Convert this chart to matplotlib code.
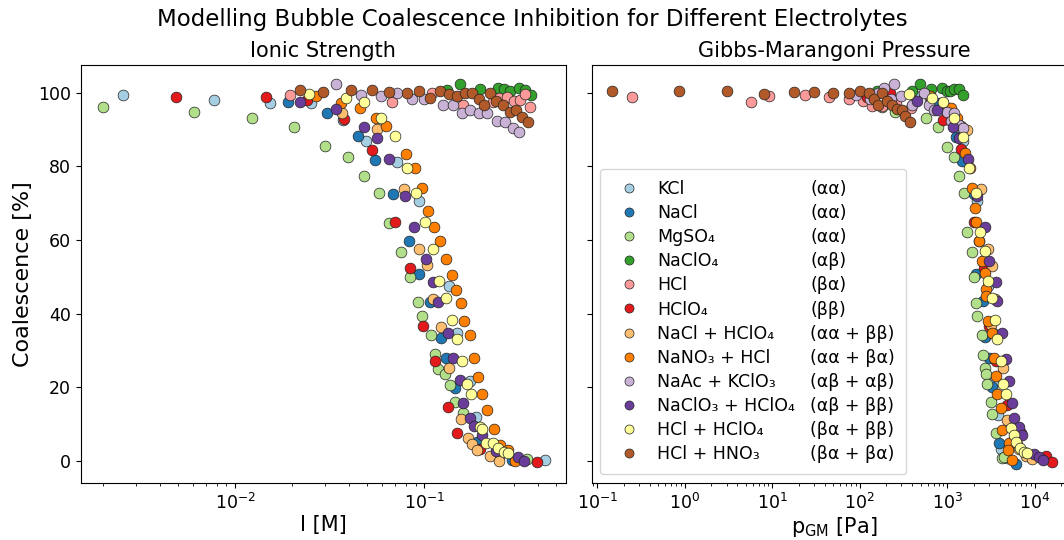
import matplotlib.pyplot as plt
from matplotlib.lines import Line2D

# electrolyte names and their ion-combination types
names = ['KCl', 'NaCl', 'MgSO₄', 'NaClO₄', 'HCl', 'HClO₄',
         'NaCl + HClO₄', 'NaNO₃ + HCl', 'NaAc + KClO₃',
         'NaClO₃ + HClO₄', 'HCl + HClO₄', 'HCl + HNO₃']
types = ['(αα)', '(αα)', '(αα)', '(αβ)', '(βα)', '(ββ)',
         '(αα + ββ)', '(αα + βα)', '(αβ + αβ)', '(αβ + ββ)',
         '(βα + ββ)', '(βα + βα)']

# (ionic strength [M], coalescence [%])
kcl_I = [(0.00256, 99.3), (0.00777, 98.1), (0.0153, 97.2), (0.0253, 97.2), (0.0374, 92.7),
         (0.0493, 87.0), (0.0716, 81.3), (0.0934, 70.5), (0.1345, 47.6), (0.149, 34.9),
         (0.174, 21.7), (0.188, 12.0), (0.24, 2.5), (0.433, 0.3)]
nacl_I = [(0.019, 97.4), (0.0305, 94.5), (0.0444, 88.3), (0.055, 81.8), (0.0687, 72.5),
          (0.0835, 59.8), (0.0934, 50.8), (0.1067, 43.3), (0.1226, 33.5), (0.130, 27.9),
          (0.146, 19.9), (0.19, 5.2), (0.29, 0.3)]
mgso4_I = [(0.00201, 96.1), (0.0061, 94.9), (0.0123, 93.1), (0.0206, 90.6), (0.0299, 85.6),
           (0.0394, 82.5), (0.0482, 77.4), (0.0575, 72.7), (0.0655, 64.7), (0.0755, 56.9),
           (0.0843, 50.0), (0.0922, 43.2), (0.0976, 39.5), (0.109, 34.2), (0.1143, 29.1),
           (0.119, 25.0), (0.129, 23.6), (0.137, 20.7), (0.146, 16.1), (0.161, 13.0),
           (0.25, 1.5), (0.349, 0.5)]
naclo4_I = [(0.132, 100.8), (0.155, 102.4), (0.198, 101.0), (0.247, 101.3), (0.265, 101.0),
            (0.283, 100.4), (0.318, 101.3), (0.342, 100.8), (0.367, 99.5)]
hcl_I = [(0.0195, 99.3), (0.0674, 97.4), (0.110, 99.9), (0.160, 96.7), (0.23, 97.5),
         (0.25, 98.5), (0.274, 98.8), (0.30, 97.9), (0.322, 98.1), (0.342, 99.7), (0.361, 96.1)]
hclo4_I = [(0.00485, 99.0), (0.0145, 99.0), (0.024, 98.1), (0.0378, 92.8), (0.0528, 84.5),
           (0.0703, 64.9), (0.0843, 52.4), (0.0984, 36.7), (0.1143, 27.2), (0.133, 14.8),
           (0.150, 7.7), (0.198, 3.2), (0.394, -0.2)]
nacl_hclo4_I = [(0.0367, 94.5), (0.0566, 90.1), (0.0783, 73.8), (0.0944, 57.6), (0.103, 53.3),
                (0.112, 43.9), (0.1226, 36.3), (0.136, 25.2), (0.156, 11.3), (0.1695, 6.2),
                (0.179, 4.6), (0.19, 3.0), (0.223, 1.4), (0.25, 0.1)]
nano3_hcl_I = [(0.0268, 99.2), (0.0363, 97.2), (0.0455, 96.0), (0.0557, 93.1), (0.063, 91.0),
               (0.0803, 83.3), (0.0889, 79.5), (0.0973, 74.1), (0.1054, 68.0), (0.113, 63.7),
               (0.1215, 59.8), (0.130, 54.8), (0.14, 50.5), (0.147, 46.5), (0.156, 43.0),
               (0.163, 37.9), (0.174, 34.2), (0.1825, 28.1), (0.192, 22.9), (0.202, 18.1),
               (0.216, 13.9), (0.233, 8.6), (0.252, 4.3), (0.279, 3.0), (0.303, 0.1)]
naac_kclo3_I = [(0.0342, 102.4), (0.0462, 99.5), (0.0592, 99.2), (0.0722, 99.9), (0.086, 98.3),
                (0.1, 98.3), (0.1256, 96.7), (0.142, 96.7), (0.158, 94.5), (0.175, 95.4),
                (0.194, 94.6), (0.215, 94.6), (0.242, 92.4), (0.266, 92.2), (0.294, 90.4),
                (0.319, 89.5)]
naclo3_hclo4_I = [(0.0221, 97.6), (0.0341, 95.6), (0.0478, 90.8), (0.0566, 87.7), (0.0655, 82.1),
                  (0.0787, 72.1), (0.0885, 63.5), (0.1025, 54.8), (0.112, 48.6), (0.118, 43.3),
                  (0.133, 34.7), (0.142, 27.9), (0.154, 22.0), (0.161, 15.7), (0.174, 11.8),
                  (0.1825, 9.5), (0.202, 7.1), (0.24, 2.8), (0.315, 1.2), (0.338, 0.1)]
hcl_hclo4_I = [(0.0245, 99.7), (0.0387, 98.7), (0.0482, 97.6), (0.059, 93.3), (0.0703, 88.3),
               (0.081, 79.7), (0.0908, 72.7), (0.1016, 64.9), (0.112, 57.5), (0.1205, 48.9),
               (0.1305, 44.4), (0.14, 38.3), (0.149, 33.1), (0.158, 27.2), (0.168, 20.8),
               (0.177, 18.1), (0.198, 9.3), (0.203, 8.6), (0.213, 5.0), (0.231, 4.8),
               (0.247, 3.6), (0.263, 2.5), (0.279, 2.3)]
hcl_hno3_I = [(0.0221, 100.8), (0.0293, 100.1), (0.041, 100.8), (0.0528, 100.8), (0.0655, 100.1),
              (0.081, 99.9), (0.0944, 100.6), (0.108, 98.5), (0.1215, 100.4), (0.136, 99.7),
              (0.15, 99.2), (0.165, 99.9), (0.179, 99.9), (0.194, 98.3), (0.206, 96.7),
              (0.223, 99.9), (0.24, 97.8), (0.26, 96.7), (0.285, 94.9), (0.307, 95.4),
              (0.329, 93.4), (0.356, 92.0)]

# (Gibbs-Marangoni pressure [Pa], coalescence [%])
kcl_p = [(420, 99.3), (640, 98.1), (820, 97.2), (900, 97.2), (1250, 92.7), (1500, 87.0),
         (1700, 81.3), (2173, 70.5), (2900, 47.6), (3300, 34.9), (3500, 21.7), (3837, 12.5),
         (4085, 3.4), (4862, 0.7)]
nacl_p = [(700, 97.4), (1000, 94.5), (1270, 88.1), (1489, 81.5), (2000, 72.5), (2300, 59.8),
          (2152, 50.8), (2566, 43.6), (2704, 33.6), (3000, 27.9), (3281, 20.2), (3909, 4.8),
          (6067, -0.8)]
mgso4_p = [(180, 96.1), (250, 94.9), (568, 93.1), (785, 90.7), (1002, 85.4), (1196, 82.5),
           (1365, 77.4), (1556, 72.7), (1700, 62.2), (1905, 56.9), (2025, 50.1), (2152, 43.0),
           (2208, 39.4), (2477, 34.2), (2566, 28.8), (2704, 25.2), (2799, 23.6), (2872, 20.8),
           (3143, 16.1), (3281, 12.8), (3583, 7.5), (4198, 0.7), (4457, 1.2)]
naclo4_p = [(159, 100.6), (399, 100.4), (489, 102.4), (647, 101.0), (880, 101.3), (1002, 100.4),
            (1076, 100.4), (1196, 101.0), (1365, 101.0), (1529, 99.3)]
hcl_p = [(0.25, 98.9), (5.7, 97.6), (9.2, 99.2), (23.7, 99.5), (45, 98.8), (76, 98.3),
         (110, 97.8), (139, 96.3), (181, 96.3), (260, 97.0), (383, 95.8)]
hclo4_p = [(120, 99.0), (220, 99.9), (896, 92.5), (1426, 84.7), (2000, 64.9), (2600, 52.4),
           (3000, 36.7), (3600, 27.2), (4786, 15.2), (7000, 7.7), (13360, 1.4), (15890, -0.2)]
nacl_hclo4_p = [(1100, 94.5), (1671, 89.9), (2415, 73.8), (2900, 57.6), (3281, 53.1),
                (3500, 43.9), (3143, 37.0), (4345, 25.2), (4862, 11.1), (5800, 6.2),
                (6200, 4.6), (6622, 3.4), (8000, 1.4), (9395, 0.5)]
nano3_hcl_p = [(630, 99.2), (900, 97.2), (1100, 96.0), (1300, 93.1), (1450, 91.0), (1596, 83.6),
               (1800, 79.5), (1905, 74.1), (2080, 68.7), (2150, 65.0), (2300, 59.8),
               (2477, 54.2), (2704, 51.2), (2799, 46.7), (2799, 44.8), (2949, 37.9),
               (3281, 34.9), (3428, 27.9), (3583, 23.1), (3740, 18.1), (4085, 14.3),
               (4266, 8.4), (5084, 4.8), (5000, 3.0), (5548, 0.3)]
naac_kclo3_p = [(90, 99.5), (130, 98.3), (160, 99.9), (190, 101.3), (230, 98.3), (247, 102.4),
                (294, 99.2), (400, 96.7), (543, 99.9), (620, 96.7), (700, 95.4), (986, 94.8),
                (1200, 94.5), (1100, 92.4), (1365, 91.3), (1500, 90.4)]
naclo3_hclo4_p = [(456, 97.8), (759, 95.4), (1164, 90.6), (1350, 87.7), (1729, 82.1),
                  (2208, 72.0), (2700, 63.5), (3006, 54.3), (3583, 48.6), (3740, 43.5),
                  (4198, 34.9), (4667, 27.6), (5084, 21.8), (5457, 15.7), (5796, 11.8),
                  (6622, 9.3), (7097, 7.1), (9817, 1.9), (11194, 1.0), (12531, 0.3)]
hcl_hclo4_p = [(366, 99.7), (676, 98.6), (902, 97.5), (1196, 93.1), (1517, 88.1), (1774, 79.7),
               (2117, 72.7), (2350, 62.2), (2704, 57.1), (2949, 48.9), (3281, 44.2),
               (3517, 38.3), (3740, 33.1), (4085, 27.3), (4375, 20.8), (4667, 18.2),
               (5405, 8.9), (5800, 7.0), (6067, 5.2), (6800, 3.6), (7551, 2.5), (8200, 2.3)]
hcl_hno3_p = [(0.148, 100.5), (0.86, 100.5), (3.0, 100.5), (8.0, 99.8), (17.8, 100.3),
              (30, 100.1), (50, 99.9), (75, 100.0), (100, 100.6), (128, 99.9), (146, 98.3),
              (163, 96.7), (181, 99.9), (207, 97.9), (236, 96.7), (269, 95.6), (307, 95.4),
              (330, 93.6), (376, 92.0)]

ionic = [kcl_I, nacl_I, mgso4_I, naclo4_I, hcl_I, hclo4_I, nacl_hclo4_I, nano3_hcl_I,
         naac_kclo3_I, naclo3_hclo4_I, hcl_hclo4_I, hcl_hno3_I]
pressure = [kcl_p, nacl_p, mgso4_p, naclo4_p, hcl_p, hclo4_p, nacl_hclo4_p, nano3_hcl_p,
            naac_kclo3_p, naclo3_hclo4_p, hcl_hclo4_p, hcl_hno3_p]

cmap = plt.get_cmap('Paired')

fig = plt.figure(figsize=(10.64, 5.4), dpi=100)
ax1 = fig.add_axes([0.0761, 0.1056, 0.4555, 0.774])
ax2 = fig.add_axes([0.5561, 0.1056, 0.4555, 0.774], sharey=ax1)

for i in range(len(names)):
    c = cmap(i)
    x, y = zip(*ionic[i])
    ax1.scatter(x, y, s=60, color=c, edgecolors='#222222', linewidths=0.5)
    x, y = zip(*pressure[i])
    ax2.scatter(x, y, s=60, color=c, edgecolors='#222222', linewidths=0.5)

for ax in (ax1, ax2):
    ax.set_xscale('log')
    ax.tick_params(labelsize=12.5)
ax1.set_xlim(10**-2.815, 10**-0.252)
ax2.set_xlim(10**-1.064, 10**4.476)
ax2.tick_params(labelleft=False)

ax1.set_title('Ionic Strength', fontsize=15)
ax2.set_title('Gibbs-Marangoni Pressure', fontsize=15)
ax1.set_xlabel('I [M]', fontsize=15, labelpad=1.5)
ax2.set_xlabel(r'p$_{\mathrm{GM}}$ [Pa]', fontsize=15, labelpad=1.5)
ax1.set_ylabel('Coalescence [%]', fontsize=16)
fig.suptitle('Modelling Bubble Coalescence Inhibition for Different Electrolytes',
             fontsize=16.5, y=0.963, va='center')

handles = [Line2D([], [], ls='none', marker='o', markersize=6.5, markerfacecolor=cmap(i),
                  markeredgecolor='#222222', markeredgewidth=0.5) for i in range(len(names))]
blanks = [Line2D([], [], ls='none') for _ in types]
ax2.legend(handles + blanks, names + types, ncol=2, loc='lower left',
           columnspacing=-1.7, fontsize=12.5, labelspacing=0.35,
           borderpad=0.65, handletextpad=0.6)

fig.savefig('out.png', dpi=100)
